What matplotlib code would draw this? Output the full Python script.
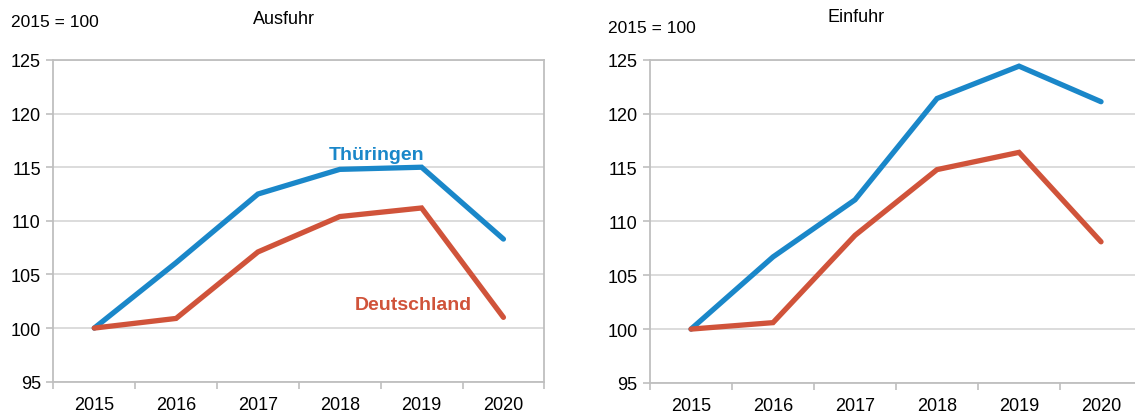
import matplotlib
matplotlib.use("Agg")
import matplotlib.pyplot as plt
import numpy as np

plt.rcParams['font.family'] = ['Liberation Sans', 'DejaVu Sans']

years = ["2015", "2016", "2017", "2018", "2019", "2020"]
aus_thueringen = [100.0, 106.1, 112.5, 114.8, 115.0, 108.3]
aus_deutschland = [100.0, 100.9, 107.1, 110.4, 111.2, 101.0]
ein_thueringen = [100.0, 106.7, 112.0, 121.4, 124.4, 121.1]
ein_deutschland = [100.0, 100.6, 108.7, 114.8, 116.4, 108.1]
yticks = [95, 100, 105, 110, 115, 120, 125]

BLUE = "#1a87c9"
RED = "#d0533a"
GRID = "#d9d9d9"
SPINE = "#bfbfbf"

fig = plt.figure(figsize=(11.35, 4.14), dpi=100)
ax1 = fig.add_axes([0.0470, 0.0756, 0.4326, 0.7771])
ax2 = fig.add_axes([0.5727, 0.0725, 0.4335, 0.7809])

def style(ax, th, de):
    x = np.arange(len(years))
    ax.plot(x, th, color=BLUE, lw=3.8, solid_capstyle='round', solid_joinstyle='miter', zorder=3)
    ax.plot(x, de, color=RED, lw=3.8, solid_capstyle='round', solid_joinstyle='miter', zorder=3)
    ax.set_xlim(-0.5, len(years) - 0.5)
    ax.set_ylim(95, 125)
    ax.set_yticks(yticks)
    ax.set_yticklabels([str(v) for v in yticks], fontsize=13)
    ax.set_xticks(x)
    ax.set_xticklabels(years, fontsize=13)
    ax.set_xticks(np.arange(-0.5, len(years), 1.0), minor=True)
    ax.tick_params(axis='x', which='major', length=0, pad=10)
    ax.tick_params(axis='x', which='minor', length=5, color=SPINE, width=1.2)
    ax.tick_params(axis='y', length=5, color=SPINE, width=1.2, pad=4)
    ax.grid(axis='y', color=GRID, lw=1.3, zorder=0)
    for s in ax.spines.values():
        s.set_color(SPINE)
        s.set_linewidth(1.3)

style(ax1, aus_thueringen, aus_deutschland)
style(ax2, ein_thueringen, ein_deutschland)

ax1.text(3.45, 116.2, "Thüringen", color=BLUE, fontsize=14, fontweight='bold', ha='center', va='center')
ax1.text(3.9, 102.2, "Deutschland", color=RED, fontsize=14, fontweight='bold', ha='center', va='center')

fig.text(0.010, 0.945, "2015 = 100", fontsize=12.5, ha='left', va='center')
fig.text(0.250, 0.952, "Ausfuhr", fontsize=13, ha='center', va='center')
fig.text(0.536, 0.932, "2015 = 100", fontsize=12.5, ha='left', va='center')
fig.text(0.754, 0.957, "Einfuhr", fontsize=13, ha='center', va='center')

fig.savefig("out.png", dpi=100)
